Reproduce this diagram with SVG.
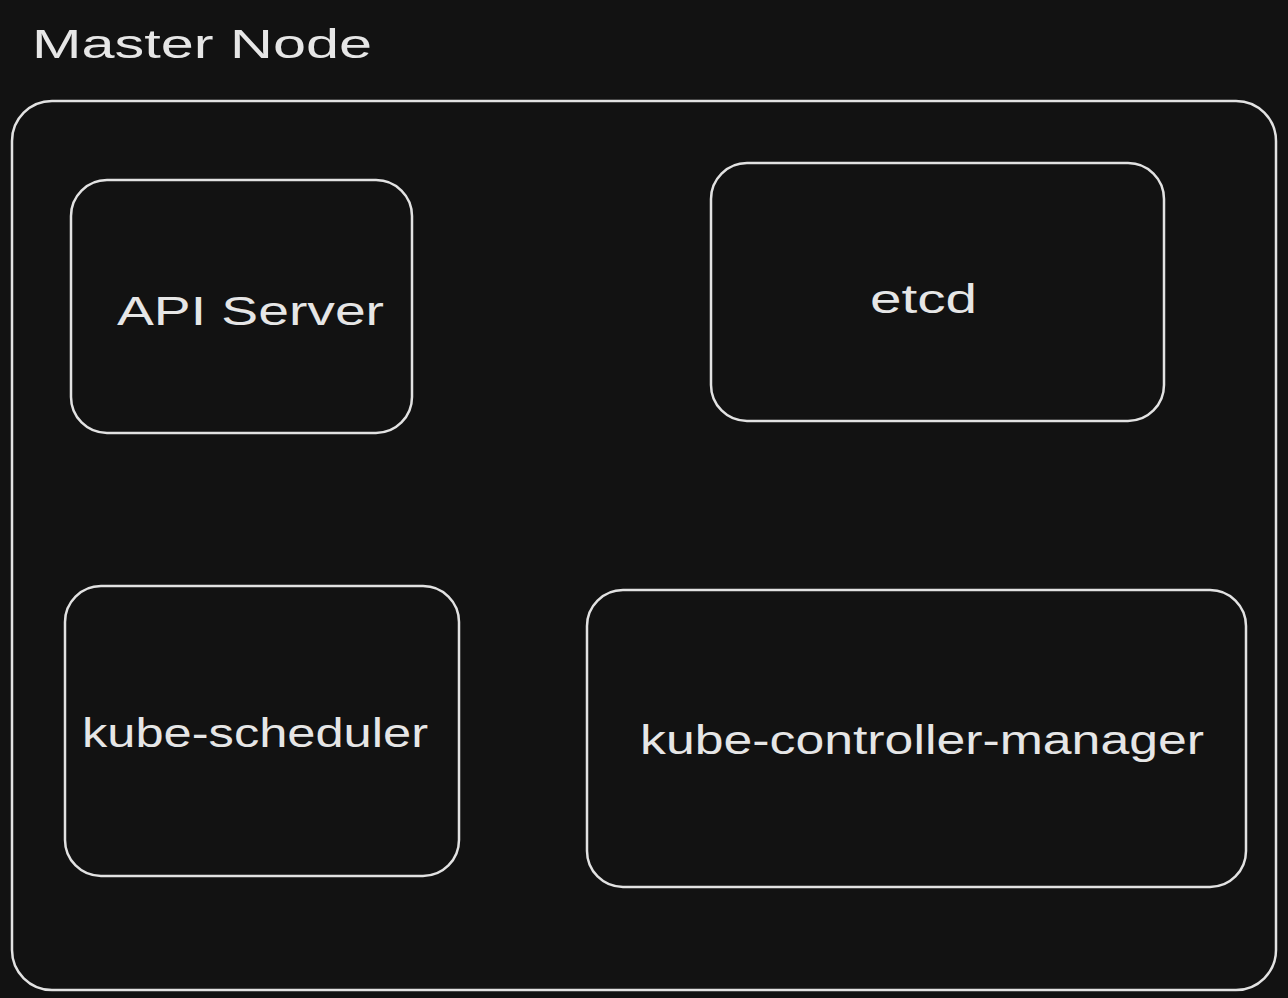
<svg xmlns="http://www.w3.org/2000/svg" width="1288" height="998" viewBox="0 0 1288 998">
<style>
.box{fill:none;stroke:#e2e2e2;stroke-width:2.5;stroke-linecap:round}
.lbl{fill:#e6e6e6;font-family:"Liberation Sans","DejaVu Sans",sans-serif;font-size:40px}
</style>
<rect x="0" y="0" width="1288" height="998" fill="#121212"/>
<g id="title"><text class="lbl" x="32" y="58" font-size="44" textLength="340" lengthAdjust="spacingAndGlyphs">Master Node</text></g>
<g id="master">
<rect class="box" x="12" y="101" width="1264" height="889" rx="40"/>
</g>
<g id="api-server">
<rect class="box" x="71" y="180" width="341" height="253" rx="36"/>
<text class="lbl" x="117" y="325" textLength="267" lengthAdjust="spacingAndGlyphs">API Server</text>
</g>
<g id="etcd">
<rect class="box" x="711" y="163" width="453" height="258" rx="36"/>
<text class="lbl" x="870" y="313" textLength="107" lengthAdjust="spacingAndGlyphs">etcd</text>
</g>
<g id="kube-scheduler">
<rect class="box" x="65" y="586" width="394" height="290" rx="36"/>
<text class="lbl" x="82" y="747" textLength="346" lengthAdjust="spacingAndGlyphs">kube-scheduler</text>
</g>
<g id="kube-controller-manager">
<rect class="box" x="587" y="590" width="659" height="297" rx="36"/>
<text class="lbl" x="640" y="754" textLength="564" lengthAdjust="spacingAndGlyphs">kube-controller-manager</text>
</g>
<g id="connectors"></g>
</svg>
